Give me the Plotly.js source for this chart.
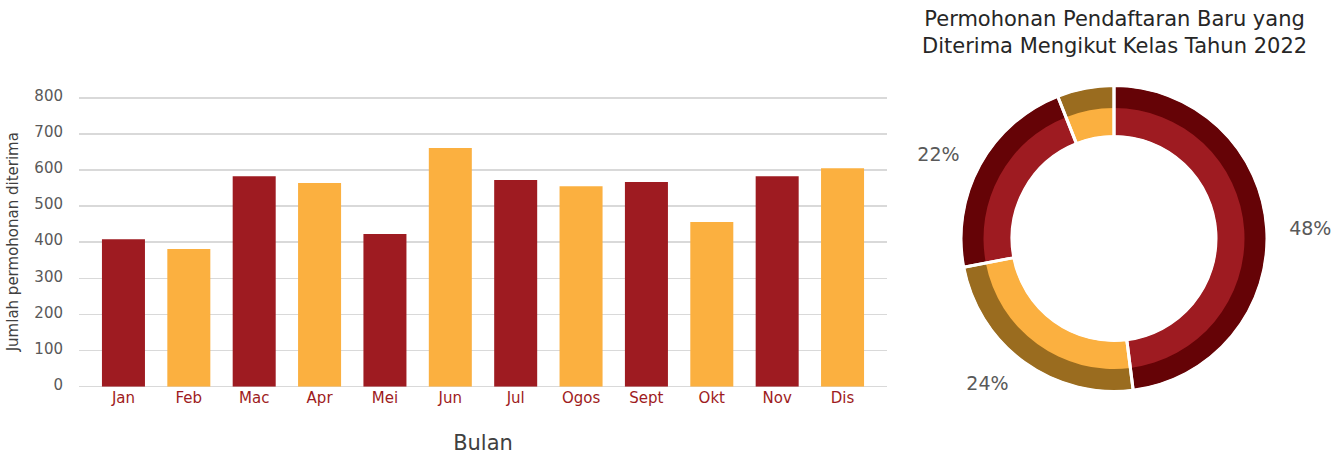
<!DOCTYPE html>
<html>
<head>
<meta charset="utf-8">
<script src="https://cdn.plot.ly/plotly-3.0.1.min.js"></script>
<style>html,body{margin:0;padding:0;background:#fff;}#chart{width:1338px;height:455px;}</style>
</head>
<body>
<div id="chart"></div>
<script>
// ---- data ----
const months = ['Jan','Feb','Mac','Apr','Mei','Jun','Jul','Ogos','Sept','Okt','Nov','Dis'];
const applications = [408, 381, 583, 564, 423, 661, 572, 555, 567, 456, 583, 605];
const classShares = [48, 24, 22, 6];
const classNames = ['Kelas A', 'Kelas B', 'Kelas C', 'Kelas D'];
const shownLabels = [true, true, true, false];
const yTicks = [0, 100, 200, 300, 400, 500, 600, 700, 800];
const chartTitle = 'Permohonan Pendaftaran Baru yang<br>Diterima Mengikut Kelas Tahun 2022';

// ---- styles ----
const RED = '#9E1B21', ORANGE = '#FBB040', DARKRED = '#650306', BROWN = '#9A6C1F';
const FONT = '"DejaVu Sans", "Open Sans", sans-serif';
const barColors = months.map((m, i) => i % 2 === 0 ? RED : ORANGE);
const innerColors = classShares.map((v, i) => i % 2 === 0 ? RED : ORANGE);
const outerColors = classShares.map((v, i) => i % 2 === 0 ? DARKRED : BROWN);
const clear = classShares.map(() => 'rgba(0,0,0,0)');
const W = 1338, H = 455;
const cx = 1114, cy = H - 238.5, rOut = 152, rMid = 130, rIn = 103, rLab = 170;
const dom = r => ({x: [(cx - r) / W, (cx + r) / W], y: [(cy - r) / H, (cy + r) / H]});

const pieBase = {type: 'pie', values: classShares, labels: classNames, sort: false,
  direction: 'clockwise', rotation: 0, showlegend: false, hoverinfo: 'skip'};

const bar = {
  type: 'bar', x: months, y: applications,
  marker: {color: barColors}, hoverinfo: 'skip',
  xaxis: 'x', yaxis: 'y'
};
const outerRing = Object.assign({}, pieBase, {
  hole: (rMid - 1) / rOut, domain: dom(rOut),
  marker: {colors: outerColors, line: {width: 0}}, textinfo: 'none'
});
const innerRing = Object.assign({}, pieBase, {
  hole: rIn / (rMid + 0.5), domain: dom(rMid + 0.5),
  marker: {colors: innerColors, line: {width: 0}}, textinfo: 'none'
});
const separators = Object.assign({}, pieBase, {
  hole: (rIn - 1) / (rOut + 1), domain: dom(rOut + 1),
  marker: {colors: clear, line: {color: '#ffffff', width: 3}}, textinfo: 'none'
});
const labelRing = Object.assign({}, pieBase, {
  domain: dom(rLab), hole: 0.9,
  marker: {colors: clear, line: {width: 0}},
  texttemplate: shownLabels.map(s => s ? '%{percent:.0%}' : ''),
  textposition: 'outside', textfont: {family: FONT, size: 19, color: '#595959'}
});

const layout = {
  width: W, height: H,
  margin: {l: 0, r: 0, t: 0, b: 0},
  paper_bgcolor: '#ffffff', plot_bgcolor: '#ffffff',
  font: {family: FONT},
  showlegend: false,
  bargap: 0.342,
  annotations: [{
    text: chartTitle, showarrow: false,
    x: cx / W, xref: 'paper', xanchor: 'center',
    y: 1 - 5 / H, yref: 'paper', yanchor: 'top',
    font: {family: FONT, size: 21, color: '#262626'}
  }],
  xaxis: {
    domain: [79 / W, 887 / W],
    range: [-0.68, 11.68],
    showgrid: false, showline: false, ticks: '', fixedrange: true,
    tickfont: {family: FONT, size: 15, color: RED},
    title: {text: 'Bulan', font: {family: FONT, size: 21, color: '#404040'}, standoff: 29}
  },
  yaxis: {
    domain: [(H - 386.7) / H, (H - 96.7) / H],
    range: [0, 803],
    tickvals: yTicks, ticktext: yTicks.map(String),
    showgrid: true, gridcolor: '#d9d9d9', gridwidth: 1.5,
    zeroline: true, zerolinecolor: '#d9d9d9', zerolinewidth: 1.5,
    showline: false, ticks: '', fixedrange: true,
    ticklabelstandoff: 15, ticklabelshift: -2,
    tickfont: {family: FONT, size: 15, color: '#595959'},
    title: {text: 'Jumlah permohonan diterima', font: {family: FONT, size: 15, color: '#404040'}, standoff: 12}
  }
};

Plotly.newPlot('chart', [bar, outerRing, innerRing, separators, labelRing], layout, {displayModeBar: false, staticPlot: true});
</script>
</body>
</html>
